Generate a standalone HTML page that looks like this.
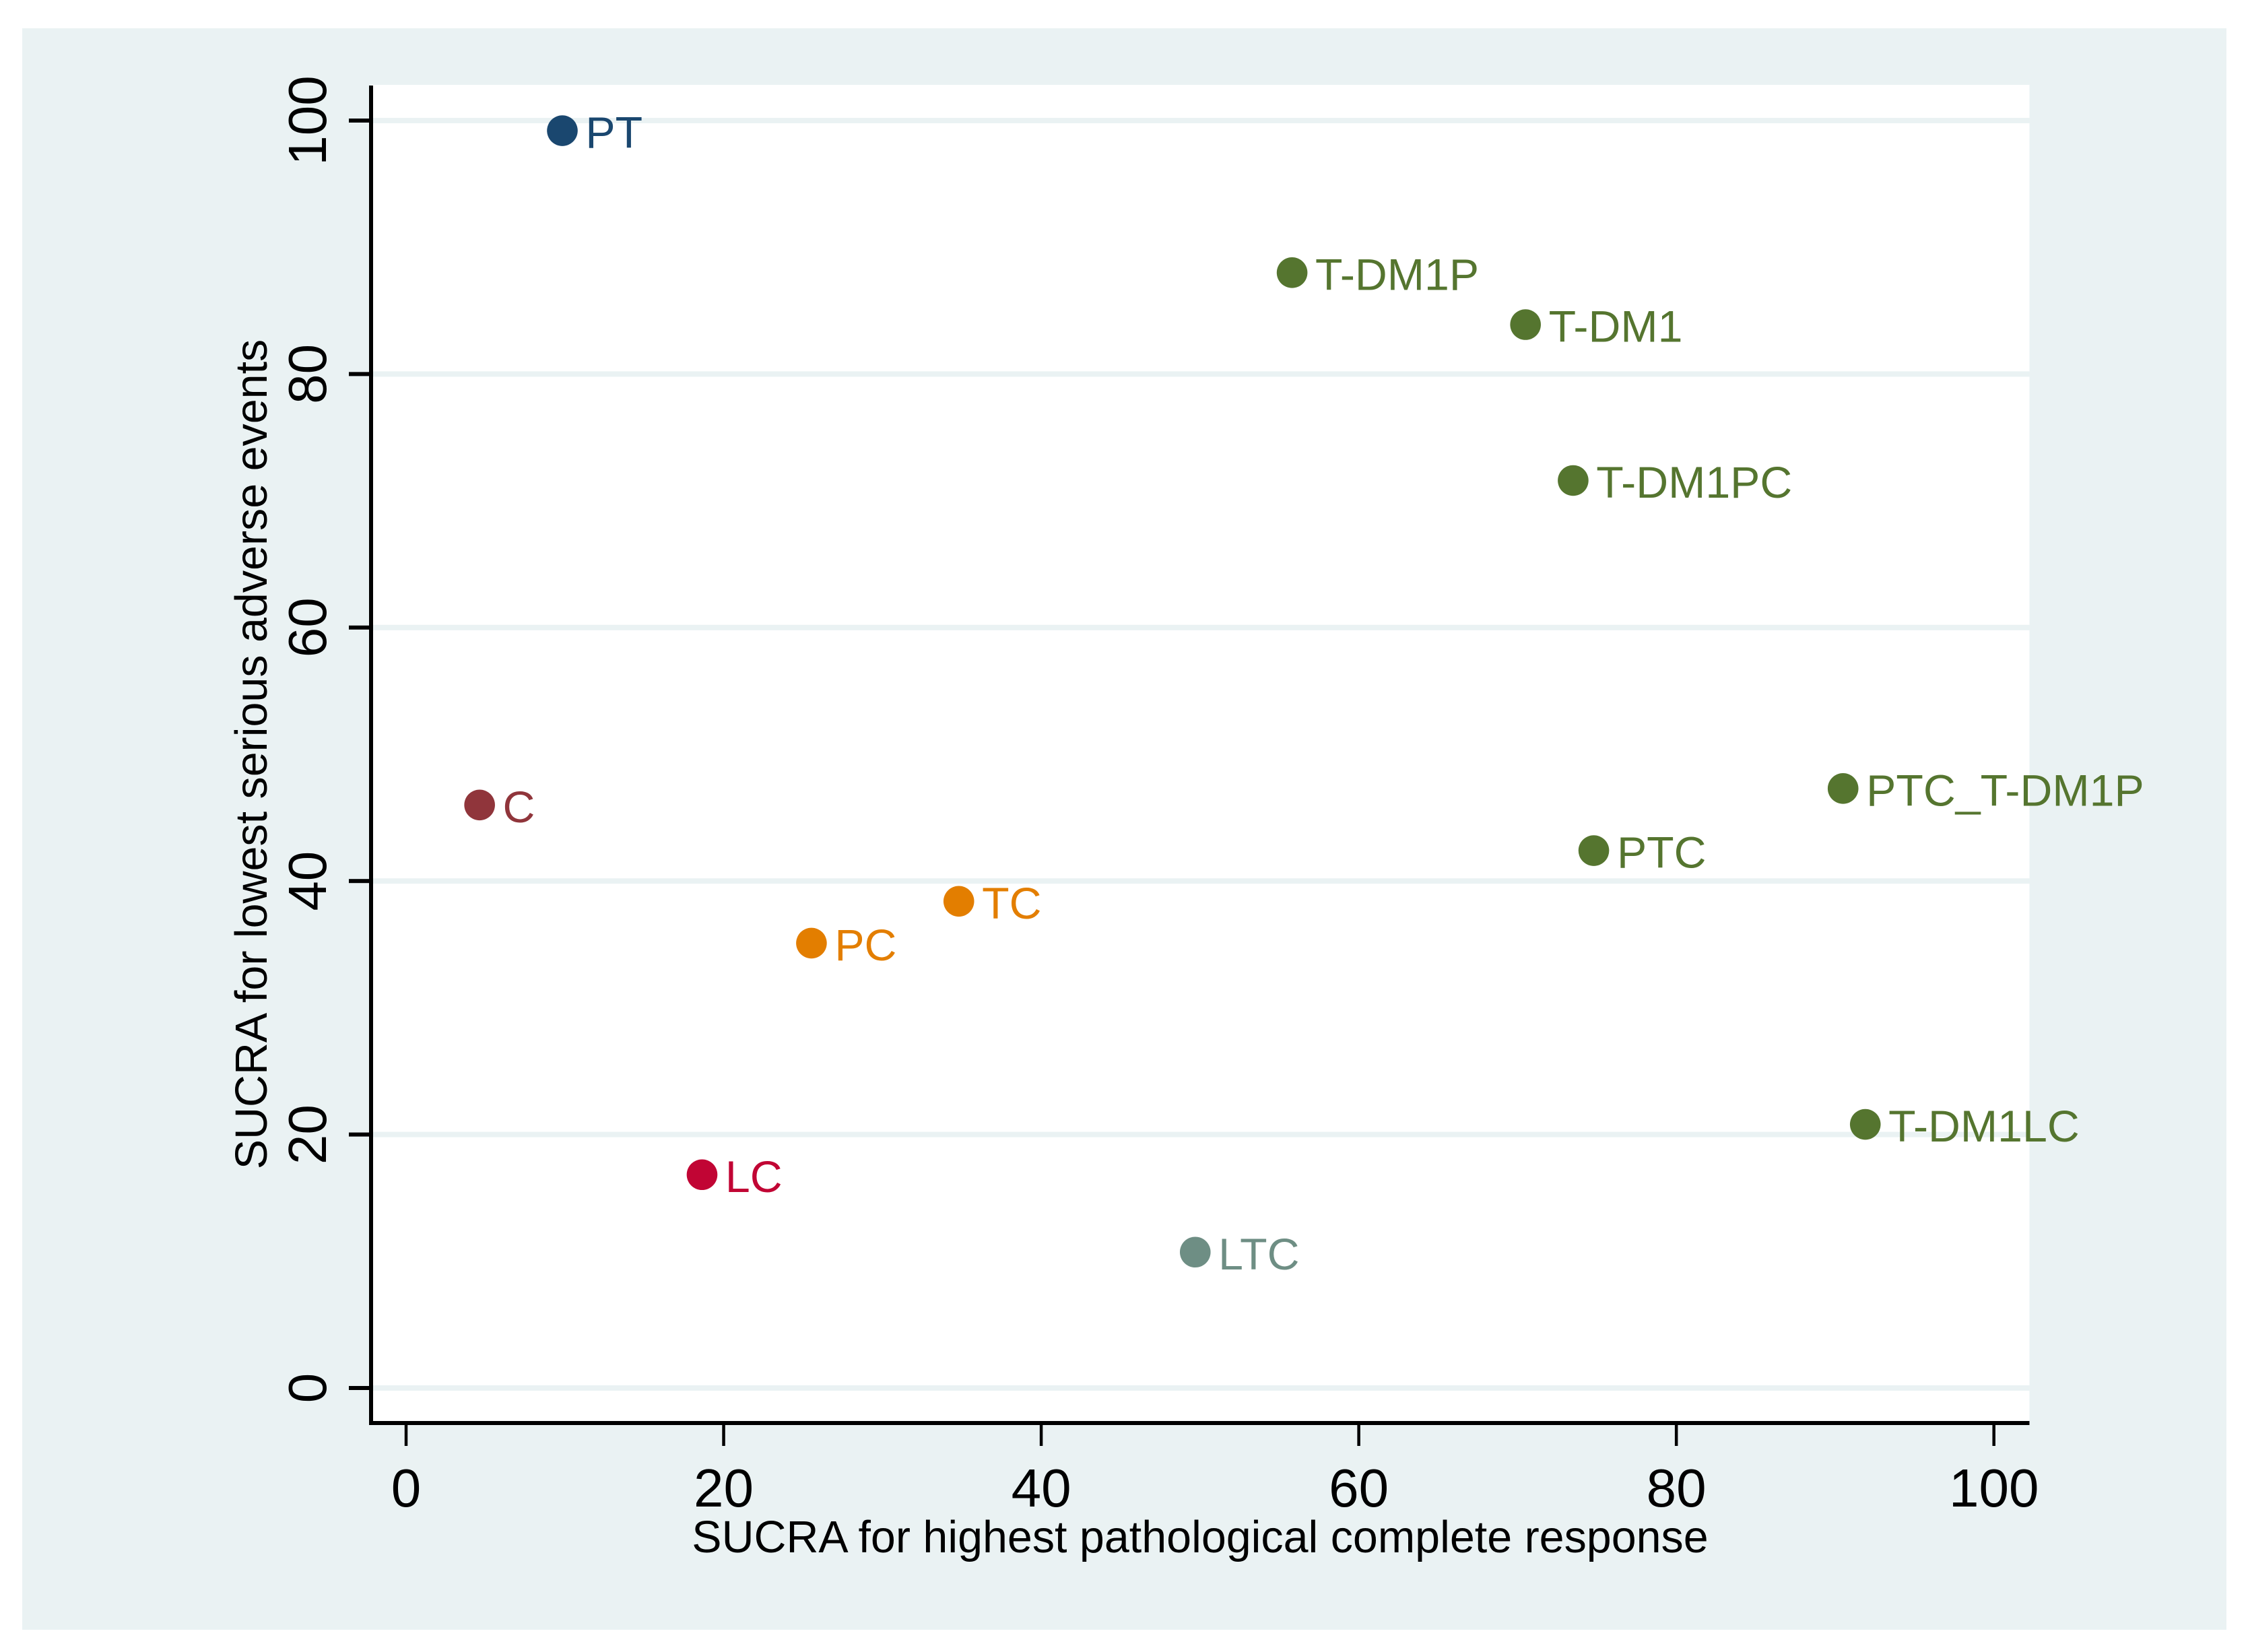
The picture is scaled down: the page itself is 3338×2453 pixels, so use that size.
<!DOCTYPE html>
<html lang="en">
<head>
<meta charset="utf-8">
<title>SUCRA scatter plot</title>
<style>
html,body{margin:0;padding:0;background:#fff;}
svg{display:block;}
text{font-family:"Liberation Sans",Arial,sans-serif;}
</style>
</head>
<body>
<svg id="chart" xmlns="http://www.w3.org/2000/svg" width="3338" height="2453" viewBox="0 0 3338 2453">
  <rect x="33" y="42" width="3273" height="2378" fill="#eaf2f3"/>
  <rect x="552" y="126" width="2461.5" height="1986" fill="#ffffff"/>
  <g id="grid"></g>
  <rect x="548" y="127" width="6" height="1989" fill="#000"/>
  <rect x="548" y="2110" width="2465.5" height="6" fill="#000"/>
  <g id="ticks"></g>
  <g id="marks"></g>
  <text x="1782" y="2305" font-size="66.4" text-anchor="middle" fill="#000">SUCRA for highest pathological complete response</text>
  <text transform="translate(396 1120) rotate(-90)" font-size="66.4" text-anchor="middle" fill="#000">SUCRA for lowest serious adverse events</text>
</svg>
<script>
const treatments = ["PT","T-DM1P","T-DM1","T-DM1PC","PTC_T-DM1P","PTC","C","TC","PC","LC","LTC","T-DM1LC"];
const pcrValues = [9.84,55.8,70.5,73.5,90.5,74.8,4.63,34.81,25.53,18.64,49.7,91.9];
const saeValues = [99.2,88.0,83.9,71.6,47.3,42.4,46.0,38.4,35.1,16.83,10.72,20.8];
const pointColors = ["#1a476f","#55752f","#55752f","#55752f","#55752f","#55752f","#90353b","#e37e00","#e37e00","#c10534","#6e8e84","#55752f"];
const xTickValues = [0,20,40,60,80,100];
const yTickValues = [0,20,40,60,80,100];

const NS = "http://www.w3.org/2000/svg";
function xScale(v){ return 603 + 23.577 * v; }
function yScale(v){ return 2061 - 18.82 * v; }
function make(tag, attrs, parent, content){
  const el = document.createElementNS(NS, tag);
  for (const k in attrs) el.setAttribute(k, attrs[k]);
  if (content !== undefined) el.textContent = content;
  parent.appendChild(el);
  return el;
}
const gridG = document.getElementById("grid");
const ticksG = document.getElementById("ticks");
const marksG = document.getElementById("marks");

yTickValues.forEach(function(v){
  const y = yScale(v);
  const g = make("rect", {x:554, y:y-4, width:2459.5, height:8, fill:"#eaf2f3"}, gridG);
  
  
  const t = make("rect", {x:518, y:y-3, width:31, height:6, fill:"#000"}, ticksG);
  
  
  const l = make("text", {transform:"translate(484 "+y+") rotate(-90)", "font-size":80, "text-anchor":"middle", fill:"#000"}, ticksG, String(v));
  
  
});

xTickValues.forEach(function(v){
  const x = xScale(v);
  const t = make("rect", {x:x-2.25, y:2116, width:4.5, height:31, fill:"#000"}, ticksG);
  
  
  const l = make("text", {x:x, y:2237, "font-size":80, "text-anchor":"middle", fill:"#000"}, ticksG, String(v));
  
  
});

treatments.forEach(function(name, i){
  const cx = xScale(pcrValues[i]);
  const cy = yScale(saeValues[i]);
  const c = make("circle", {cx:cx, cy:cy, r:22.8, fill:pointColors[i]}, marksG);
  
  
  const l = make("text", {x:cx+34.4, y:cy+25.6, "font-size":66.3, fill:pointColors[i]}, marksG, name);
  
  
});
</script>
</body>
</html>
